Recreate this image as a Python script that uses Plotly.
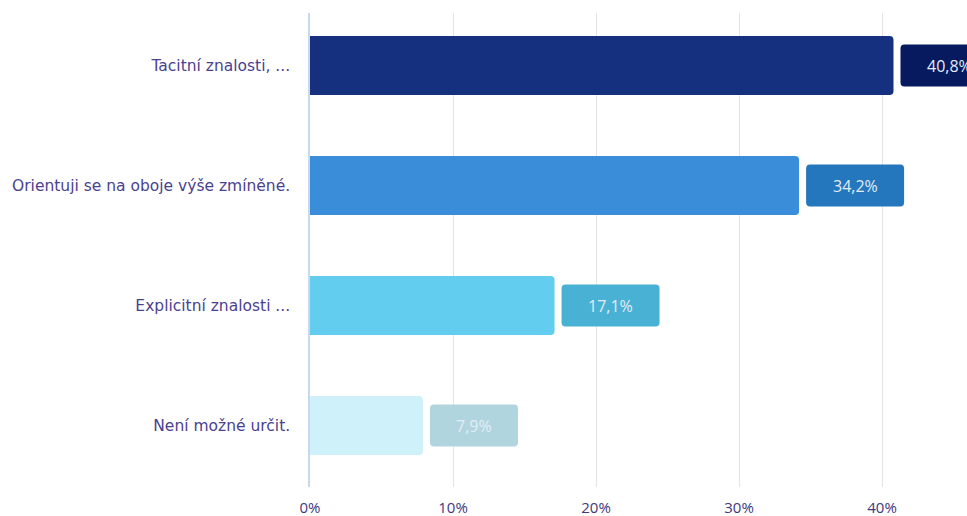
import plotly.graph_objects as go

categories = ["Tacitní znalosti, ...", "Orientuji se na oboje výše zmíněné.",
              "Explicitní znalosti ...", "Není možné určit."]
values = [40.8, 34.2, 17.1, 7.9]
bar_colors = ["#14307f", "#3a8ed9", "#62cdee", "#cff1f9"]
box_colors = ["#071a60", "#2577bd", "#48b1d4", "#b1d5de"]
tick_vals = [0, 10, 20, 30, 40]
tick_text = ["0%", "10%", "20%", "30%", "40%"]

ypos = list(range(len(categories)))
labels = [f"{v:.1f}".replace(".", ",") + "%" for v in values]

fig = go.Figure(go.Bar(
    x=values, y=ypos, orientation="h",
    marker=dict(color=bar_colors, line=dict(width=0)),
    width=0.49, hoverinfo="skip",
))

def rrect(x0, x1, y0, y1, r):
    return (f"M {x0+r},{y0} L {x1-r},{y0} Q {x1},{y0} {x1},{y0+r} "
            f"L {x1},{y1-r} Q {x1},{y1} {x1-r},{y1} L {x0+r},{y1} "
            f"Q {x0},{y1} {x0},{y1-r} L {x0},{y0+r} Q {x0},{y0} {x0+r},{y0} Z")

shapes = []
annotations = []
for v, y, lab, bc in zip(values, ypos, labels, box_colors):
    w = 10 * len(lab) + 48
    gap = 7
    shapes.append(dict(
        type="path", xref="x", yref="y", xsizemode="pixel", ysizemode="pixel",
        xanchor=v, yanchor=y, path=rrect(gap, gap + w, -21, 21, 4),
        fillcolor=bc, line=dict(width=0), layer="above",
    ))
    annotations.append(dict(
        x=v, y=y, xref="x", yref="y", text=lab, showarrow=False,
        xanchor="center", yanchor="middle", xshift=gap + w / 2,
        font=dict(family="Open Sans", size=16, color="#e3ecf5"),
    ))

fig.update_layout(
    width=967, height=516,
    margin=dict(l=310, r=0, t=13, b=29),
    paper_bgcolor="white", plot_bgcolor="white",
    barcornerradius=4,
    showlegend=False,
    shapes=shapes, annotations=annotations,
    xaxis=dict(
        range=[0, 45.94], tickvals=tick_vals, ticktext=tick_text,
        showgrid=True, gridcolor="#e4e4e4", gridwidth=1,
        zeroline=False, showline=False,
        ticks="outside", ticklen=7, tickcolor="rgba(0,0,0,0)",
        tickfont=dict(family="Open Sans", size=15, color="#40387f"),
        fixedrange=True,
    ),
    yaxis=dict(
        range=[3.5125, -0.4375], tickvals=ypos, ticktext=categories,
        showgrid=False, zeroline=False,
        showline=True, linecolor="#c8d8ef", linewidth=1.5,
        ticks="outside", ticklen=15, tickcolor="rgba(0,0,0,0)",
        tickfont=dict(family="DejaVu Sans", size=15.5, color="#4a4290"),
        fixedrange=True,
    ),
)

fig.write_html("out.html")
